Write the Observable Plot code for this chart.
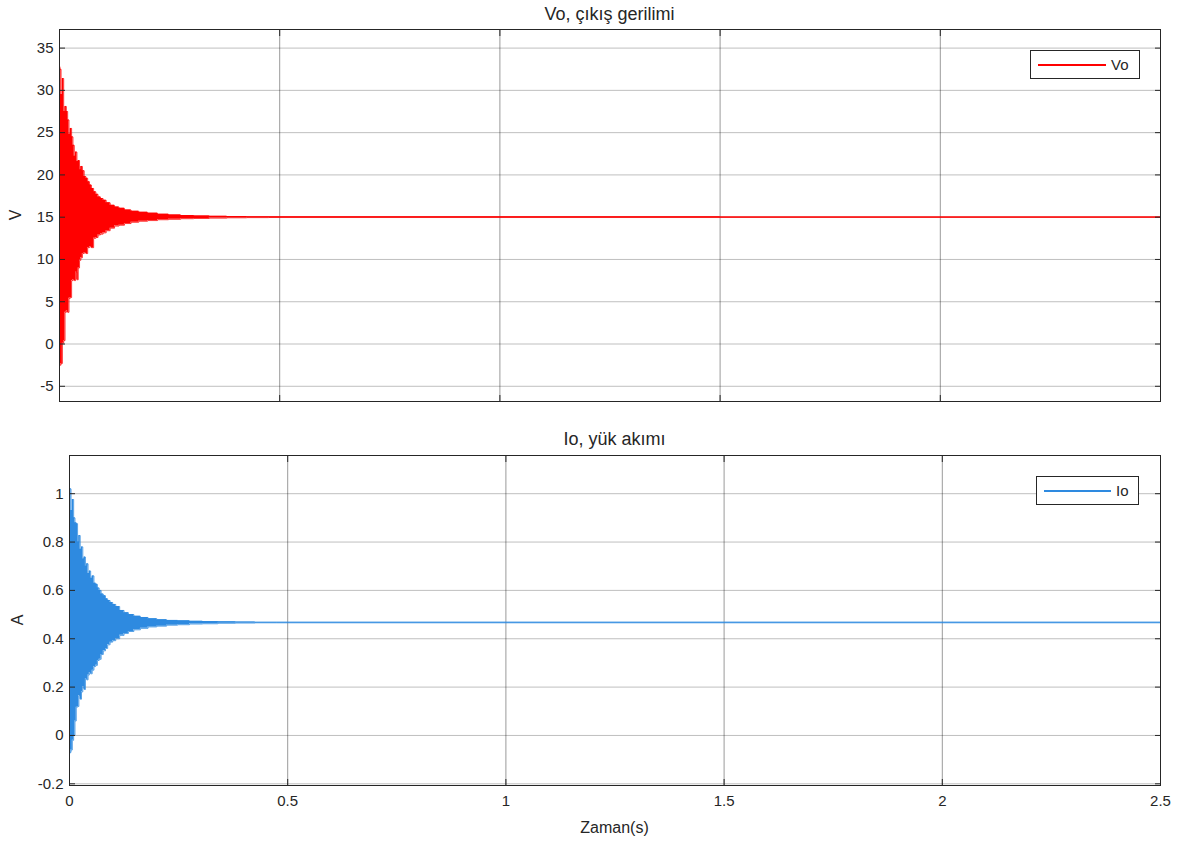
<!DOCTYPE html>
<html>
<head>
<meta charset="utf-8">
<script src="https://cdn.jsdelivr.net/npm/d3@7"></script>
<script src="https://cdn.jsdelivr.net/npm/@observablehq/plot@0.6"></script>
<style>
  body { margin: 0; background: #fff; }
  #wrap { position: relative; width: 1189px; height: 848px; font-family: "Liberation Sans", Arial, sans-serif; color: #262626; overflow: hidden; }
  .abs { position: absolute; }
  .title { text-align: center; font-size: 18px; line-height: 20px; }
  .lab { font-size: 16px; line-height: 18px; }
  .legend { background: #fff; border: 1px solid #262626; box-sizing: border-box; display: flex; align-items: center; font-size: 15px; }
  .legend .ln { display: inline-block; height: 0; border-top: 2px solid; margin-left: 7px; margin-right: 5px; }
</style>
</head>
<body>
<div id="wrap">
  <div id="topPlot" class="abs" style="left:0;top:0"></div>
  <div id="botPlot" class="abs" style="left:0;top:420px"></div>
  <div id="title1" class="abs title" style="left:59px;width:1101px;top:4px"></div>
  <div id="title2" class="abs title" style="left:69px;width:1091px;top:429px"></div>
  <div id="ylab1" class="abs lab" style="left:16px;top:215px;transform:translate(-50%,-50%) rotate(-90deg)"></div>
  <div id="ylab2" class="abs lab" style="left:18px;top:620px;transform:translate(-50%,-50%) rotate(-90deg)"></div>
  <div id="xlab" class="abs lab" style="left:69px;width:1091px;top:819px;text-align:center"></div>
  <div id="leg1" class="abs legend" style="left:1030px;top:50px;width:110px;height:29px"><span class="ln" style="width:68px;border-color:#ff0000"></span><span id="leg1t"></span></div>
  <div id="leg2" class="abs legend" style="left:1036px;top:476px;width:103px;height:29px"><span class="ln" style="width:67px;border-color:#2e8ae0"></span><span id="leg2t"></span></div>
</div>
<script>
// ---- text ----
const topTitle = "Vo, çıkış gerilimi";
const bottomTitle = "Io, yük akımı";
const topYLabel = "V";
const bottomYLabel = "A";
const xLabel = "Zaman(s)";
const topSeriesName = "Vo";
const bottomSeriesName = "Io";

// ---- tick labels ----
const timeTicks = [0, 0.5, 1, 1.5, 2, 2.5];
const voTicks = [-5, 0, 5, 10, 15, 20, 25, 30, 35];
const ioTicks = [-0.2, 0, 0.2, 0.4, 0.6, 0.8, 1];

// ---- data: envelope of the oscillating signals ----
const tSamples = [0, 0.002, 0.005, 0.008, 0.011, 0.014, 0.017, 0.020, 0.023, 0.026, 0.029, 0.032, 0.035, 0.038, 0.041, 0.044, 0.047, 0.050, 0.054, 0.058, 0.062, 0.066, 0.070, 0.075, 0.080, 0.085, 0.090, 0.096, 0.102, 0.110, 0.120, 0.130, 0.140, 0.155, 0.170, 0.190, 0.210, 0.235, 0.26, 0.29, 0.32, 0.36, 0.40, 0.45, 0.50, 2.5];
const voMax = [32.8, 32.5, 29.5, 31.4, 27.5, 28.1, 27.5, 26.5, 24.8, 25.5, 24.5, 23.5, 22.2, 22.7, 21.6, 21.7, 20.6, 21.0, 20.5, 19.8, 19.6, 19.2, 18.8, 18.4, 18.0, 17.7, 17.4, 17.2, 17.0, 16.7, 16.4, 16.2, 16.05, 15.85, 15.7, 15.58, 15.48, 15.35, 15.27, 15.2, 15.15, 15.1, 15.07, 15.05, 15.04, 15.03];
const voMin = [-2.5, -2.5, -2.3, 0.1, 0.4, 3.75, 3.9, 3.75, 5.4, 5.5, 7.5, 7.6, 7.5, 8.5, 7.6, 9.0, 9.9, 10.2, 10.7, 10.8, 10.7, 11.4, 11.5, 11.4, 12.5, 12.6, 12.9, 13.0, 13.15, 13.4, 13.7, 13.95, 14.05, 14.25, 14.4, 14.52, 14.6, 14.7, 14.75, 14.82, 14.85, 14.89, 14.93, 14.95, 14.96, 14.97];
const ioMax = [1.02, 1.02, 0.93, 0.976, 0.90, 0.88, 0.876, 0.80, 0.827, 0.77, 0.78, 0.73, 0.738, 0.70, 0.71, 0.67, 0.68, 0.65, 0.66, 0.63, 0.625, 0.61, 0.60, 0.585, 0.578, 0.565, 0.558, 0.55, 0.542, 0.533, 0.517, 0.508, 0.500, 0.493, 0.488, 0.483, 0.479, 0.476, 0.474, 0.472, 0.471, 0.470, 0.469, 0.468, 0.468, 0.468];
const ioMin = [-0.075, -0.07, -0.06, -0.02, 0.0, 0.06, 0.117, 0.12, 0.165, 0.15, 0.18, 0.20, 0.19, 0.236, 0.23, 0.25, 0.26, 0.255, 0.27, 0.285, 0.29, 0.31, 0.315, 0.335, 0.35, 0.36, 0.375, 0.386, 0.392, 0.40, 0.414, 0.422, 0.43, 0.437, 0.443, 0.449, 0.452, 0.456, 0.458, 0.461, 0.462, 0.464, 0.465, 0.466, 0.466, 0.466];

const voColor = "#ff0000";
const ioColor = "#2e8ae0";

const voData = tSamples.map((t, i) => ({t, lo: voMin[i], hi: voMax[i]}));
const ioData = tSamples.map((t, i) => ({t, lo: ioMin[i], hi: ioMax[i]}));

const fmt = d => String(d);

function panel({data, color, yDomain, yTicks, height, mt, mb, ml, showX}) {
  return Plot.plot({
    width: 1189, height,
    marginLeft: ml, marginRight: 29, marginTop: mt, marginBottom: mb,
    x: {domain: [0, 2.5]},
    y: {domain: yDomain},
    style: {fontFamily: "'Liberation Sans', Arial, sans-serif", fontSize: "15px", color: "#262626", background: "transparent"},
    marks: [
      Plot.gridY(yTicks, {stroke: "#000", strokeOpacity: 0.25}),
      Plot.gridX(timeTicks, {stroke: "#000", strokeOpacity: 0.4}),
      Plot.areaY(data, {x: "t", y1: "lo", y2: "hi", fill: color, curve: "step"}),
      Plot.lineY(data, {x: "t", y: "hi", stroke: color, strokeWidth: 0.8, curve: "step"}),
      Plot.lineY(data, {x: "t", y: "lo", stroke: color, strokeWidth: 0.8, curve: "step"}),
      Plot.frame({stroke: "#262626", strokeWidth: 1}),
      Plot.axisY(yTicks, {anchor: "left", tickSize: 0, tickPadding: 6, tickFormat: fmt, label: null}),
      Plot.axisY(yTicks, {anchor: "left", tickSize: -6, tickFormat: () => "", label: null, stroke: "#262626"}),
      Plot.axisY(yTicks, {anchor: "right", tickSize: -6, tickFormat: () => "", label: null, stroke: "#262626"}),
      Plot.axisX(timeTicks, {anchor: "bottom", tickSize: -6, tickFormat: () => "", label: null, stroke: "#262626"}),
      Plot.axisX(timeTicks, {anchor: "top", tickSize: -6, tickFormat: () => "", label: null, stroke: "#262626"}),
      showX ? Plot.axisX(timeTicks, {anchor: "bottom", tickSize: 0, tickPadding: 10, tickFormat: fmt, label: null}) : null
    ]
  });
}

document.getElementById("topPlot").append(panel({
  data: voData, color: voColor, yDomain: [-6.8, 37.2], yTicks: voTicks,
  height: 420, mt: 29, mb: 19, ml: 59, showX: false
}));
document.getElementById("botPlot").append(panel({
  data: ioData, color: ioColor, yDomain: [-0.207, 1.158], yTicks: ioTicks,
  height: 428, mt: 35, mb: 63, ml: 69, showX: true
}));

document.getElementById("title1").textContent = topTitle;
document.getElementById("title2").textContent = bottomTitle;
document.getElementById("ylab1").textContent = topYLabel;
document.getElementById("ylab2").textContent = bottomYLabel;
document.getElementById("xlab").textContent = xLabel;
document.getElementById("leg1t").textContent = topSeriesName;
document.getElementById("leg2t").textContent = bottomSeriesName;
</script>
</body>
</html>
